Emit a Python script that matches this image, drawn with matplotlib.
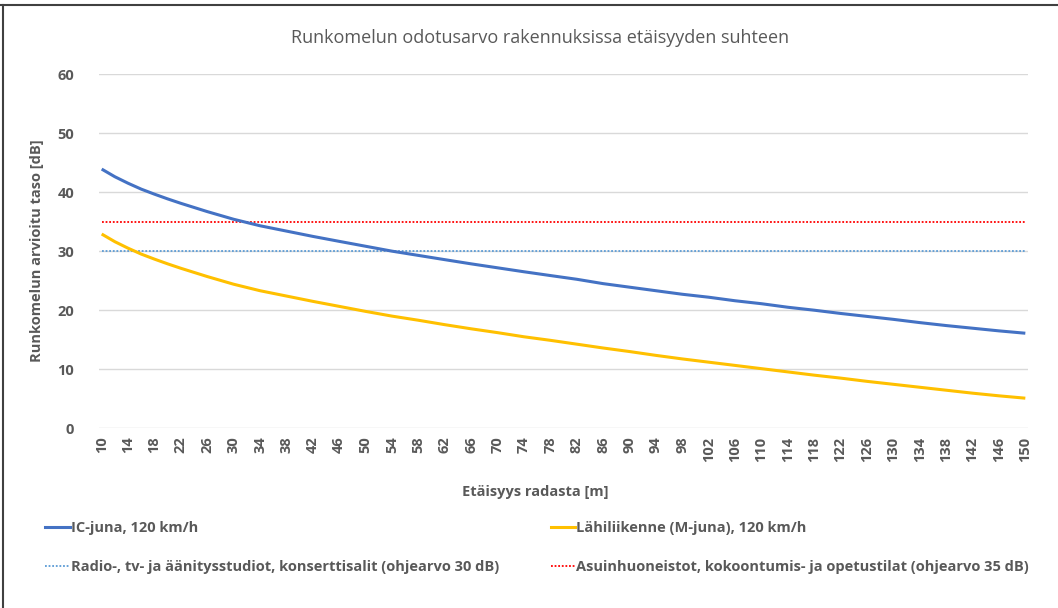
import matplotlib.pyplot as plt
from matplotlib.lines import Line2D

plt.rcParams["font.family"] = ["Open Sans", "DejaVu Sans"]

# distance from track [m]; 2 m steps near the track where the curves bend most
distance = list(range(10, 31, 2)) + list(range(34, 151, 4))
tick_distance = list(range(10, 151, 4))

ic_train = [43.9, 42.6, 41.5, 40.5, 39.65, 38.85, 38.1, 37.4, 36.7, 36.05,
            35.4, 34.3, 33.4, 32.5, 31.66, 30.83, 30.0, 29.28, 28.56, 27.85,
            27.18, 26.51, 25.87, 25.24, 24.5, 23.9, 23.3, 22.7, 22.2, 21.6,
            21.1, 20.5, 20.0, 19.45, 18.95, 18.45, 17.9, 17.4, 16.95, 16.5,
            16.1]
m_train = [32.9, 31.6, 30.5, 29.5, 28.65, 27.85, 27.1, 26.4, 25.7, 25.05,
           24.4, 23.3, 22.4, 21.5, 20.65, 19.8, 19.0, 18.3, 17.55, 16.85,
           16.2, 15.5, 14.9, 14.25, 13.6, 13.0, 12.35, 11.75, 11.2, 10.65,
           10.1, 9.55, 9.0, 8.5, 7.95, 7.45, 6.95, 6.45, 5.95, 5.5,
           5.1]

studio_limit = 30
housing_limit = 35

labels = ["IC-juna, 120 km/h",
          "Lähiliikenne (M-juna), 120 km/h",
          "Radio-, tv- ja äänitysstudiot, konserttisalit (ohjearvo 30 dB)",
          "Asuinhuoneistot, kokoontumis- ja opetustilat (ohjearvo 35 dB)"]

TXT = "#595959"

fig = plt.figure(figsize=(10.58, 6.08), dpi=100)
ax = fig.add_axes([99.3 / 1058, 1 - 428.3 / 608, (1027.7 - 99.3) / 1058, (428.3 - 74) / 608])

ax.plot(distance, ic_train, color="#4472C4", lw=2.2, solid_capstyle="butt", zorder=3)
ax.plot(distance, m_train, color="#FFC000", lw=2.2, solid_capstyle="butt", zorder=3)
ax.plot([distance[0], distance[-1]], [studio_limit] * 2, color="#5B9BD5", lw=1.3, ls=(0, (1, 1)), zorder=2)
ax.plot([distance[0], distance[-1]], [housing_limit] * 2, color="#FF0000", lw=1.3, ls=(0, (1, 1)), zorder=2)

ax.set_xlim(10 - 0.36, 150 + 0.36)
ax.set_ylim(0, 60)
ax.set_yticks(range(0, 61, 10))
ax.set_xticks(tick_distance)
ax.set_xticklabels([str(d) for d in tick_distance], rotation=90)
ax.grid(axis="y", color="#D9D9D9", lw=1)
ax.set_axisbelow(True)
for s in ax.spines.values():
    s.set_visible(False)
ax.tick_params(length=0, colors=TXT, labelsize=10.5)
ax.tick_params(axis="y", pad=18)
ax.tick_params(axis="x", pad=6)
for t in ax.get_xticklabels() + ax.get_yticklabels():
    t.set_fontweight("bold")

ax.set_ylabel("Runkomelun arvioitu taso [dB]", fontsize=10.5, fontweight="bold", color=TXT, labelpad=10)
fig.text(0.506, 1 - 492 / 608, "Etäisyys radasta [m]", ha="center", va="center",
         fontsize=10.5, fontweight="bold", color=TXT)
fig.text(0.51, 1 - 38 / 608, "Runkomelun odotusarvo rakennuksissa etäisyyden suhteen",
         ha="center", va="center", fontsize=13, color=TXT)

handles = [Line2D([], [], color="#4472C4", lw=2.2),
           Line2D([], [], color="#5B9BD5", lw=1.3, ls=(0, (1, 1))),
           Line2D([], [], color="#FFC000", lw=2.2),
           Line2D([], [], color="#FF0000", lw=1.3, ls=(0, (1, 1)))]
leg = fig.legend(handles, [labels[0], labels[2], labels[1], labels[3]], ncol=2,
                 loc="upper left", bbox_to_anchor=(45 / 1058, 1 - 521 / 608),
                 frameon=False, fontsize=10.5, handlelength=1.7, handletextpad=0.05,
                 columnspacing=3.55, labelspacing=1.73, borderaxespad=0, borderpad=0)
for t in leg.get_texts():
    t.set_color(TXT)
    t.set_fontweight("bold")

# outer frame (top and left edges visible in the screenshot)
fig.add_artist(Line2D([0, 1], [1 - 5 / 608] * 2, color="#404040", lw=1.5, transform=fig.transFigure))
fig.add_artist(Line2D([2.5 / 1058] * 2, [0, 1 - 5 / 608], color="#404040", lw=1.5, transform=fig.transFigure))

fig.savefig("out.png", dpi=100, facecolor="white")
